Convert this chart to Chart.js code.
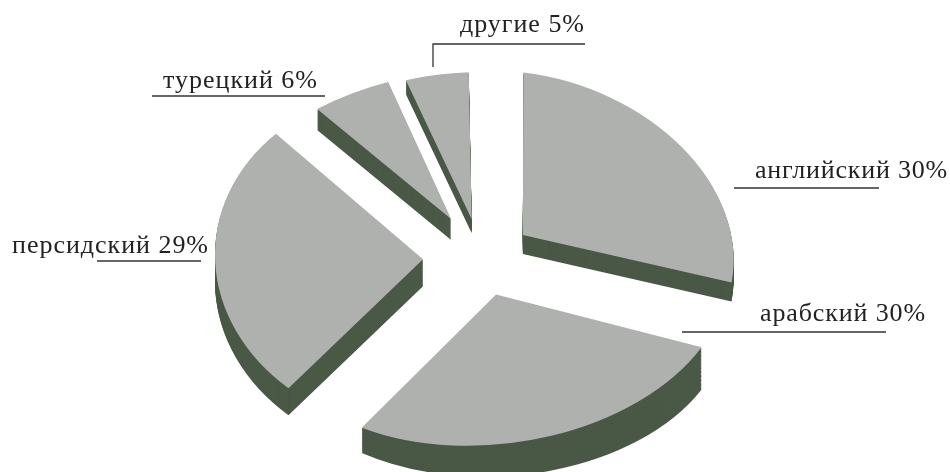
<!DOCTYPE html>
<html><head><meta charset="utf-8">
<style>html,body{margin:0;padding:0;background:#fff}canvas{display:block}</style>
<script src="https://cdn.jsdelivr.net/npm/chart.js@4"></script>
</head><body>
<canvas id="c" width="950" height="472"></canvas>
<script>
const languages = ['английский','арабский','персидский','турецкий','другие'];
const shares = [30,30,29,6,5];

const faceColor = '#aeb1ad';
const sideColor = '#4a5846';
const explodeSquash = 0.74;
const sweepScale = 0.907;
const sliceExplode = [53,52,57,60,53];
const sliceDepth = [19,32,27,21,14];
const sideShear = [0,0.05,0,0,0];
/* per-slice projection of the round pie onto the tilted page: [a,c,e,b] */
const sliceProjection = [
  [210,11,18,164],
  [231,-7,-18,151],
  [208,3,2,173],
  [231,-9,-13,148],
  [224,-5,-0.3,147]
];

const labelStyle = [
  {x:755,y:178,w:193,line:[[734,188],[879,188]]},
  {x:760,y:321,w:166,line:[[682,332],[886,332]]},
  {x:12,y:253,w:197,line:[[97,261],[201,261]]},
  {x:163,y:88,w:155,line:[[152,96],[325,96]]},
  {x:460,y:32,w:125,line:[[433,67],[433,44],[585,44]]}
];

const pie3d = {
  id:'pie3d',
  beforeDatasetsDraw(chart){
    const ctx = chart.ctx;
    const arcs = chart.getDatasetMeta(0).data;
    const paint = (arc,i,d,color)=>{
      const start = arc.startAngle, end = arc.endAngle, sweep = arc.circumference;
      const mid = (start+end)/2;
      const saved = arc.options;
      const o = Object.create(saved);
      o.backgroundColor = color;
      arc.options = o;
      arc.startAngle = mid-(mid-start)*sweepScale;
      arc.endAngle = mid+(end-mid)*sweepScale;
      arc.circumference = sweep*sweepScale;
      const R = arc.outerRadius;
      const p = sliceProjection[i];
      ctx.save();
      ctx.translate(arc.x+Math.cos(mid)*sliceExplode[i], arc.y+Math.sin(mid)*sliceExplode[i]*explodeSquash+d);
      ctx.transform(1,sideShear[i]*d/sliceDepth[i],0,1,0,0);
      ctx.transform(p[0]/R,p[1]/R,p[2]/R,p[3]/R,0,0);
      ctx.translate(-arc.x,-arc.y);
      arc.draw(ctx);
      ctx.restore();
      arc.options = saved;
      arc.startAngle = start; arc.endAngle = end; arc.circumference = sweep;
    };
    arcs.forEach((arc,i)=>{ for(let d=sliceDepth[i];d>0;d--) paint(arc,i,d,sideColor); });
    arcs.forEach((arc,i)=>paint(arc,i,0,faceColor));
    return false;
  },
  afterDraw(chart){
    const ctx = chart.ctx;
    ctx.save();
    languages.forEach((name,i)=>{
      const s = labelStyle[i];
      ctx.strokeStyle='#333';
      ctx.lineWidth=1.3;
      ctx.beginPath();
      s.line.forEach((p,j)=>j?ctx.lineTo(p[0],p[1]):ctx.moveTo(p[0],p[1]));
      ctx.stroke();
      ctx.fillStyle='#222';
      ctx.font='26px "Liberation Serif"';
      ctx.textBaseline='alphabetic';
      ctx.textAlign='left';
      const text = name+' '+shares[i]+'%';
      ctx.letterSpacing='0px';
      const w = ctx.measureText(text).width;
      ctx.letterSpacing=((s.w-w)/text.length).toFixed(3)+'px';
      ctx.fillText(text,s.x,s.y);
    });
    ctx.restore();
  }
};

new Chart(document.getElementById('c'),{
  type:'pie',
  data:{labels:languages,datasets:[{data:shares,backgroundColor:faceColor,borderWidth:0,clip:false}]},
  options:{
    responsive:false,animation:false,radius:200,
    layout:{padding:{left:10,top:44}},
    plugins:{legend:{display:false},tooltip:{enabled:false},title:{display:false}}
  },
  plugins:[pie3d]
});
</script>
</body></html>
